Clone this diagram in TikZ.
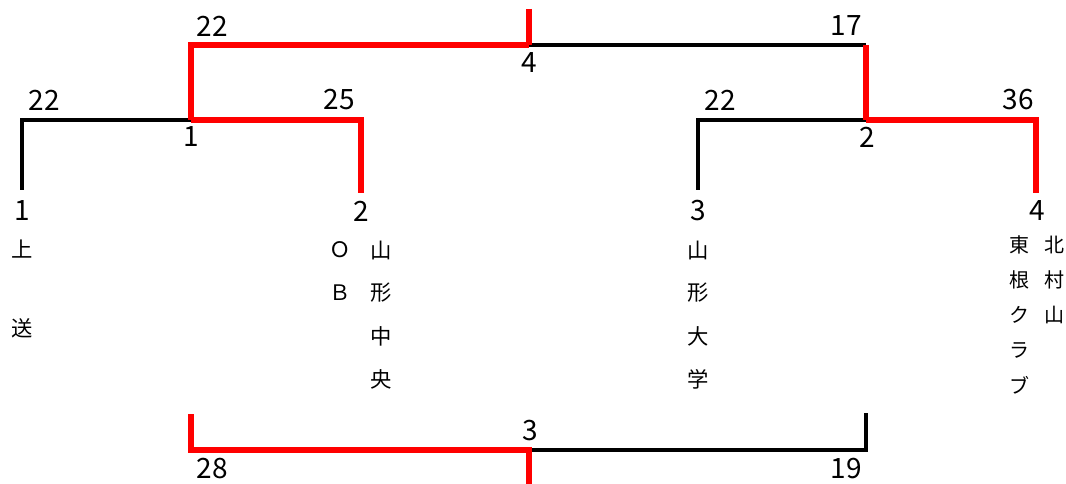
\documentclass[tikz,border=0pt]{standalone}
\usepackage{fontspec}
\setmainfont{Noto Sans CJK JP}
\begin{document}
\begin{tikzpicture}[x=0.75pt,y=-0.75pt,
  blk/.style={draw=black,line width=2.3pt,line join=miter},
  win/.style={draw=red,line width=4pt,line join=miter},
  num/.style={inner sep=0pt,font=\fontsize{21}{25}\selectfont},
  jp/.style={inner sep=0pt,font=\fontsize{16}{19}\selectfont},
  jps/.style={inner sep=0pt,font=\fontsize{15}{18}\selectfont}]
\useasboundingbox (0,0) rectangle (1066,484);
% coordinates
\coordinate (t1) at (22,190);
\coordinate (t2) at (361,193);
\coordinate (t3) at (698,190);
\coordinate (t4) at (1036,193);
\coordinate (m1L) at (22,120);
\coordinate (m1) at (191,120);
\coordinate (m1R) at (361,120);
\coordinate (m2L) at (698,120);
\coordinate (m2) at (866,120);
\coordinate (m2R) at (1036,120);
\coordinate (fL) at (191,45);
\coordinate (f) at (529,45);
\coordinate (fR) at (866,45);
\coordinate (fTop) at (529,9);
\coordinate (bLtop) at (191,414);
\coordinate (bL) at (191,450);
\coordinate (b) at (529,450);
\coordinate (bR) at (866,450);
\coordinate (bRtop) at (866,413);
\coordinate (bBot) at (529,484);
% black lines
\draw[blk] (t1) -- (m1L) -- (m1);
\draw[blk] (t3) -- (m2L) -- (m2);
\draw[blk] (f) -- (fR);
\draw[blk] (bRtop) -- (bR) -- (b);
% red lines
\draw[win] (m1) -- (m1R) -- (t2);
\draw[win] (m2) -- (m2R) -- (t4);
\draw[win] (m1) -- (fL) -- (f);
\draw[win] (fTop) -- (f);
\draw[win] (fR) -- (m2);
\draw[win] (bLtop) -- (bL) -- (b) -- (bBot);
% scores
\node[num] (s1) at (44,100) {22};
\node[num] (s2) at (339,100) {25};
\node[num] (s3) at (720,100) {22};
\node[num] (s4) at (1018,100) {36};
\node[num] (s5) at (212,26) {22};
\node[num] (s6) at (846,26) {17};
\node[num] (s7) at (212,469) {28};
\node[num] (s8) at (846,469) {19};
% match numbers
\node[num] (g1) at (191,137) {1};
\node[num] (g2) at (867,137) {2};
\node[num] (g4) at (529,63) {4};
\node[num] (g3) at (530,431) {3};
% team numbers
\node[num] (n1) at (22,211) {1};
\node[num] (n2) at (361,211) {2};
\node[num] (n3) at (698,211) {3};
\node[num] (n4) at (1037,211) {4};
% team names
\node[jp] (a1) at (22,249) {上};
\node[jp] (a2) at (22,328) {送};
\node[jp] (b1) at (340,250) {Ｏ};
\node[jp] (b2) at (340,293) {Ｂ};
\node[jp] (c1) at (381,250) {山};
\node[jp] (c2) at (381,293) {形};
\node[jp] (c3) at (381,336) {中};
\node[jp] (c4) at (381,379) {央};
\node[jp] (d1) at (698,250) {山};
\node[jp] (d2) at (698,293) {形};
\node[jp] (d3) at (698,336) {大};
\node[jp] (d4) at (698,379) {学};
\node[jps] (e1) at (1054,245) {北};
\node[jps] (e2) at (1054,280) {村};
\node[jps] (e3) at (1054,315) {山};
\node[jps] (h1) at (1019,245) {東};
\node[jps] (h2) at (1019,280) {根};
\node[jps] (h3) at (1019,315) {ク};
\node[jps] (h4) at (1019,350) {ラ};
\node[jps] (h5) at (1019,385) {ブ};
\end{tikzpicture}
\end{document}
